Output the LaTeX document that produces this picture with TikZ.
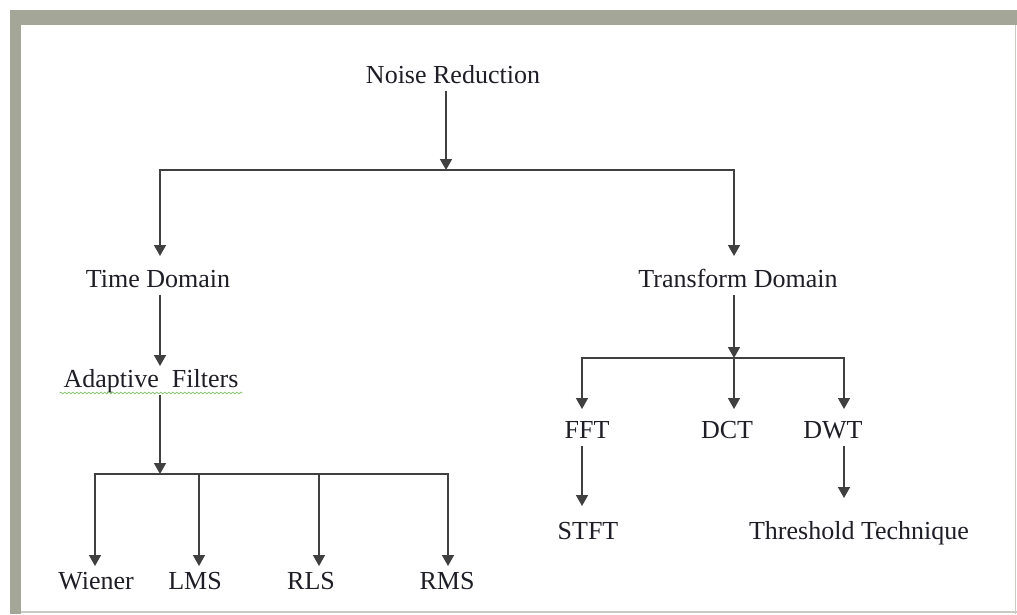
\documentclass[tikz,border=0pt]{standalone}
\usepackage{fontspec}
\setmainfont{Liberation Serif}
\usetikzlibrary{arrows.meta,decorations.pathmorphing}
\definecolor{framegray}{HTML}{A4A697}
\definecolor{edgegray}{HTML}{CBCBC6}
\definecolor{linegray}{HTML}{404040}
\definecolor{txt}{HTML}{1E1E26}
\definecolor{squiggle}{HTML}{8CC878}
\tikzset{
  lbl/.style={anchor=base, inner sep=0pt, outer sep=5pt, text=txt,
    font=\fontsize{26}{30}\selectfont, text depth=0.25em, text height=0.7em},
  conn/.style={draw=linegray, line width=1.6pt},
  arr/.style={conn, -{Triangle[width=12pt,length=11pt]}},
}
\begin{document}
\begin{tikzpicture}[x=1pt,y=-1pt]
\useasboundingbox (0,0) rectangle (1017,614);
\fill[white] (0,0) rectangle (1017,614);
% frame
\fill[framegray] (10,10) rectangle (1017,25);
\fill[framegray] (10,10) rectangle (21,614);
\draw[edgegray, line width=1.2pt] (1015.5,25) -- (1015.5,614);
\draw[edgegray, line width=1.2pt] (21,612) -- (1017,612);

% nodes
\node[lbl] (nr) at (453,83) {Noise Reduction};
\node[lbl] (time) at (158,287) {Time Domain};
\node[lbl] (trans) at (738,287) {Transform Domain};
\node[lbl] (adapt) at (151,387) {Adaptive\ \ Filters};
\node[lbl] (wiener) at (96,589) {Wiener};
\node[lbl] (lms) at (195,589) {LMS};
\node[lbl] (rls) at (311,589) {RLS};
\node[lbl] (rms) at (447,589) {RMS};
\node[lbl] (fft) at (587,438) {FFT};
\node[lbl] (dct) at (727,438) {DCT};
\node[lbl] (dwt) at (833,438) {DWT};
\node[lbl] (stft) at (588,539) {STFT};
\node[lbl] (thr) at (859,539) {Threshold Technique};

% spell-check squiggle
\draw[squiggle, line width=0.8pt, decorate,
  decoration={snake, amplitude=0.8pt, segment length=4pt}]
  ([xshift=1pt,yshift=-6pt]adapt.base west) -- ([xshift=-1pt,yshift=-6pt]adapt.base east);

% junction coordinates
\coordinate (j1) at (446,170);
\coordinate (j2) at (734,358);
\coordinate (j3) at (160,474);
\coordinate (tTime) at (160,256);
\coordinate (tTrans) at (734,256);
\coordinate (tAdapt) at (160,366);
\coordinate (tWiener) at (95,566);
\coordinate (tLms) at (199,566);
\coordinate (tRls) at (319,566);
\coordinate (tRms) at (448,566);
\coordinate (tFft) at (582,409);
\coordinate (tDct) at (734,409);
\coordinate (tDwt) at (844,409);
\coordinate (tStft) at (582,506);
\coordinate (tThr) at (844,498);

% connectors
\draw[arr] (nr.south -| j1) -- (j1);
\draw[arr] (j1) -| (tTime);
\draw[arr] (j1) -| (tTrans);
\draw[arr] (time.south -| tAdapt) -- (tAdapt);
\draw[arr] (adapt.south -| j3) -- (j3);
\draw[arr] (j3) -| (tWiener);
\draw[arr] (j3) -| (tLms);
\draw[arr] (j3) -| (tRls);
\draw[arr] (j3) -| (tRms);
\draw[arr] (trans.south -| j2) -- (j2);
\draw[arr] (j2) -| (tFft);
\draw[arr] (j2) -- (tDct);
\draw[arr] (j2) -| (tDwt);
\draw[arr] (fft.south -| tStft) -- (tStft);
\draw[arr] (dwt.south -| tThr) -- (tThr);
\end{tikzpicture}
\end{document}
